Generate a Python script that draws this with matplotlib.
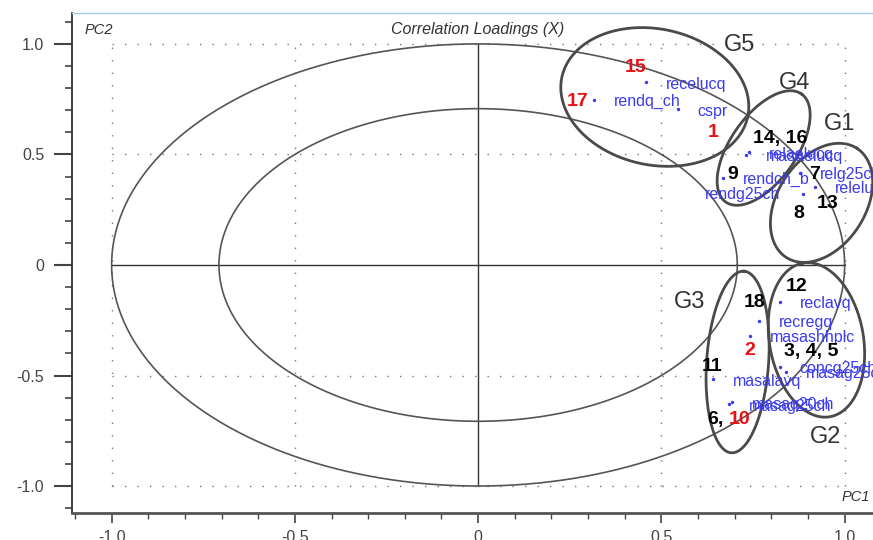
import numpy as np
import matplotlib
matplotlib.use('Agg')
import matplotlib.pyplot as plt

# variable loadings (blue dots)
var_names = ['recelucq', 'rendq_ch', 'cspr', 'masaelucq', 'relaelucq', 'rendch_b',
             'relg25ch', 'relelucq', 'rendg25ch', 'reclavq', 'recregq', 'masashhplc',
             'masalavq', 'concg25ch', 'masag25cq', 'masag25ch', 'masaq20ch']
var_pc1 = [0.459, 0.315, 0.544, 0.732, 0.738, 0.668,
           0.877, 0.918, 0.886, 0.823, 0.766, 0.741,
           0.641, 0.823, 0.839, 0.684, 0.692]
var_pc2 = [0.827, 0.747, 0.705, 0.498, 0.511, 0.395,
           0.418, 0.354, 0.320, -0.166, -0.253, -0.321,
           -0.517, -0.460, -0.484, -0.630, -0.620]

# sample labels
samples = ['15', '17', '1', '14, 16', '9', '7', '8', '13', '12',
           '18', '2', '3, 4, 5', '11', '6,', '10']
samp_pc1 = [0.430, 0.271, 0.642, 0.823, 0.695, 0.918, 0.874, 0.954, 0.868,
            0.754, 0.741, 0.910, 0.639, 0.648, 0.714]
samp_pc2 = [0.893, 0.739, 0.597, 0.573, 0.407, 0.410, 0.234, 0.279, -0.098,
            -0.171, -0.385, -0.392, -0.460, -0.701, -0.701]
red_samples = ['15', '17', '1', '2', '10']

# groups
groups = ['G5', 'G4', 'G1', 'G2', 'G3']
group_cx = [0.482, 0.779, 0.937, 0.923, 0.708]
group_cy = [0.760, 0.529, 0.281, -0.339, -0.439]
group_lx = [0.714, 0.864, 0.986, 0.948, 0.577]
group_ly = [0.995, 0.824, 0.638, -0.778, -0.167]

BLUE = '#3a3af0'
RED = '#e81010'

fig = plt.figure(figsize=(8.73, 5.40), dpi=100)
ax = fig.add_axes([0.0825, 0.05, 0.927, 0.926])
x0, x1 = -1.108, 1.10
y0, y1 = -1.122, 1.140
ax.set_xlim(x0, x1)
ax.set_ylim(y0, y1)

# pixels per data unit (for drawing rotated ellipses on screen)
sx = 873 * 0.927 / (x1 - x0)
sy = 540 * 0.926 / (y1 - y0)

# dotted grid box
for v in [-1.0, -0.5, 0.5, 1.0]:
    ax.plot([v, v], [-1, 1], color='#777777', lw=1.0, ls=(0, (1, 8)), zorder=1)
    ax.plot([-1, 1], [v, v], color='#777777', lw=1.0, ls=(0, (1, 8)), zorder=1)
ax.plot([0, 0], [-1, 1], color='#333333', lw=1.0, zorder=2)
ax.plot([-1, 1], [0, 0], color='#333333', lw=1.0, zorder=2)

# correlation circles
t = np.linspace(0, 2 * np.pi, 400)
for r in [1.0, np.sqrt(0.5)]:
    ax.plot(r * np.cos(t), r * np.sin(t), color='#555555', lw=1.2, zorder=2)

# group ellipses (semi axes in pixels, angle on screen)
ell_a = [95, 66, 65, 78, 91]
ell_b = [68, 33, 44, 47, 31]
ell_ang = [-12, 55, 57, 100, 86]
for g, cx, cy, a, b, ang, lx, ly in zip(groups, group_cx, group_cy, ell_a, ell_b,
                                        ell_ang, group_lx, group_ly):
    th = np.radians(ang)
    dx = a * np.cos(t) * np.cos(th) - b * np.sin(t) * np.sin(th)
    dy = a * np.cos(t) * np.sin(th) + b * np.sin(t) * np.cos(th)
    ax.plot(cx + dx / sx, cy + dy / sy, color='#4a4a4a', lw=2.0, zorder=3)
    ax.text(lx, ly, g, fontsize=17, color='#333333', ha='center', va='center',
            family=['Liberation Sans', 'DejaVu Sans'], zorder=5)

# variables
label_offsets = {'rendg25ch': (-98, 0)}
ax.scatter(var_pc1, var_pc2, s=6, color=BLUE, zorder=4, linewidths=0)
for name, x, y in zip(var_names, var_pc1, var_pc2):
    off = label_offsets.get(name, (20, -2))
    ax.annotate(name, (x, y), xytext=off, textcoords='offset pixels',
                fontsize=11.5, color=BLUE, ha='left', va='center',
                family=['Liberation Sans', 'DejaVu Sans'], zorder=4)

# samples
for s, x, y in zip(samples, samp_pc1, samp_pc2):
    c = RED if s in red_samples else 'black'
    ax.text(x, y, s, fontsize=14, fontweight='bold', color=c, ha='center', va='center',
            family=['Liberation Sans Narrow', 'Liberation Sans', 'DejaVu Sans'], zorder=6)

# axis annotations
ax.text(-1.074, 1.063, 'PC2', fontsize=10.5, style='italic', color='#333333',
        ha='left', va='center', family=['Liberation Sans', 'DejaVu Sans'])
ax.text(0, 1.063, 'Correlation Loadings (X)', fontsize=11.5, style='italic', color='#333333',
        ha='center', va='center', family=['Liberation Sans', 'DejaVu Sans'])
ax.text(1.068, -1.05, 'PC1', fontsize=10.5, style='italic', color='#333333',
        ha='right', va='center', family=['Liberation Sans', 'DejaVu Sans'])

# ticks
ax.set_xticks([-1.0, -0.5, 0, 0.5, 1.0])
ax.set_xticklabels(['-1.0', '-0.5', '0', '0.5', '1.0'])
ax.set_yticks([-1.0, -0.5, 0, 0.5, 1.0])
ax.set_yticklabels(['-1.0', '-0.5', '0', '0.5', '1.0'])
ax.set_xticks(np.arange(-11, 11) / 10, minor=True)
ax.set_yticks(np.arange(-11, 12) / 10, minor=True)
ax.tick_params(axis='x', which='major', length=7, width=1.2, pad=5, colors='#444444',
               labelsize=11.5)
ax.tick_params(axis='x', which='minor', length=4, width=1.0, colors='#444444')
ax.tick_params(axis='y', which='major', length=13, width=1.5, pad=7, colors='#444444',
               labelsize=11.5)
ax.tick_params(axis='y', which='minor', length=5, width=1.2, colors='#444444')
for lab in ax.get_xticklabels() + ax.get_yticklabels():
    lab.set_family(['Liberation Sans Narrow', 'Liberation Sans', 'DejaVu Sans'])

ax.spines['right'].set_visible(False)
ax.spines['top'].set_color('#a8c8e8')
ax.spines['top'].set_linewidth(1.0)
ax.spines['left'].set_color('#333333')
ax.spines['left'].set_linewidth(1.3)
ax.spines['bottom'].set_color('#555555')
ax.spines['bottom'].set_linewidth(2.0)

fig.savefig('out.png', dpi=100)
